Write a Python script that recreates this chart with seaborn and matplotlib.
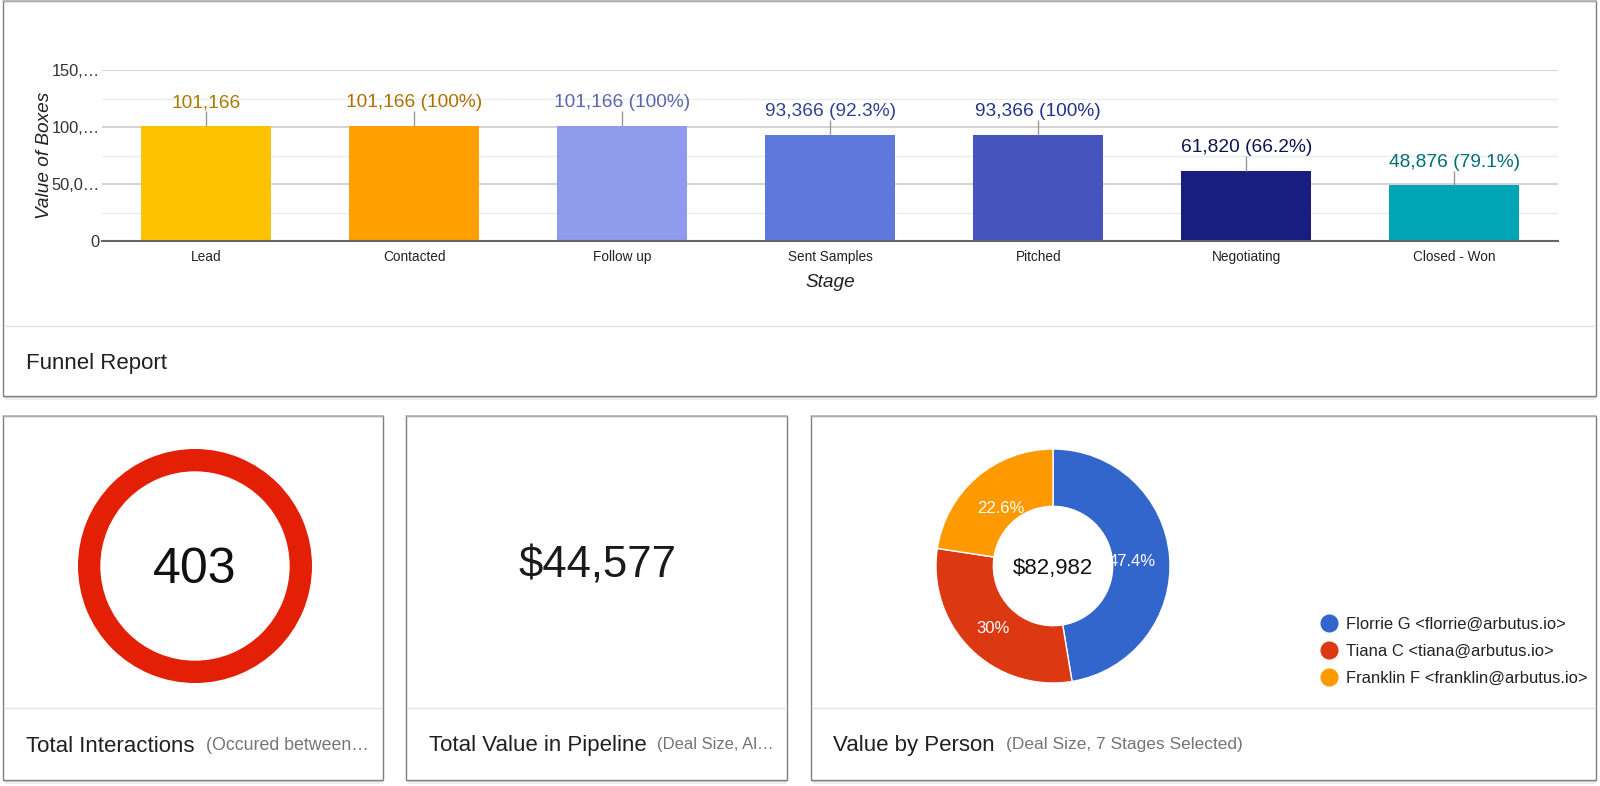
import matplotlib
matplotlib.use("Agg")
import matplotlib.pyplot as plt
from matplotlib.lines import Line2D
from matplotlib.patches import Rectangle
import pandas as pd
import seaborn as sns

stages = ["Lead", "Contacted", "Follow up", "Sent Samples", "Pitched", "Negotiating", "Closed - Won"]
boxes = [101166, 101166, 101166, 93366, 93366, 61820, 48876]
box_labels = ["101,166", "101,166 (100%)", "101,166 (100%)", "93,366 (92.3%)",
              "93,366 (100%)", "61,820 (66.2%)", "48,876 (79.1%)"]
y_ticks = [0, 50000, 100000, 150000]
y_tick_labels = ["0", "50,0…", "100,…", "150,…"]
y_minor = [25000, 75000, 125000]

total_interactions = [403]
total_pipeline = "$44,577"
people = ["Florrie G <florrie@arbutus.io>", "Tiana C <tiana@arbutus.io>", "Franklin F <franklin@arbutus.io>"]
person_share = [47.4, 30.0, 22.6]
person_total = "$82,982"

BAR_COLORS = ["#FFC200", "#FF9F00", "#8F9CEE", "#5F78DC", "#4655BE", "#181D80", "#00A5B5"]
LABEL_COLORS = ["#A87C00", "#B06F00", "#5A66AF", "#2F4292", "#25348A", "#0F1350", "#006D78"]
PIE_COLORS = ["#3366CC", "#DC3912", "#FF9900"]
W, H = 1600, 786

sns.set_theme(style="white")
plt.rcParams["font.family"] = ["Liberation Sans", "DejaVu Sans"]
plt.rcParams["text.color"] = "#202020"


def px_axes(fig, left, top, right, bottom):
    return fig.add_axes([left / W, 1 - bottom / H, (right - left) / W, (bottom - top) / H])


fig = plt.figure(figsize=(W / 100, H / 100), dpi=100, facecolor="white")

# page layer in pixel coordinates, cards and their captions
page = fig.add_axes([0, 0, 1, 1])
page.set_xlim(0, W)
page.set_ylim(H, 0)
page.axis("off")

cards = [(3, 0.5, 1596, 396, 325.5), (3, 416, 383, 779.5, 708),
         (406, 416, 787, 779.5, 708), (811, 416, 1596, 779.5, 708)]
for x0, y0, x1, y1, line_y in cards:
    # soft shadow under each card
    page.add_patch(Rectangle((x0 + 2, y1 - 2), x1 - x0 - 2, 6, fc="#eeeeee", ec="none"))
    page.add_patch(Rectangle((x0 + 1, y1 - 2), x1 - x0 - 1, 4, fc="#d4d4d4", ec="none"))
    page.add_patch(Rectangle((x0, y0), x1 - x0, y1 - y0, fc="white", ec="#7f7f7f", lw=1))
    page.plot([x0, x1], [y0, y0], color="#b4b4b4", lw=1.2)
    page.plot([x0 + 1, x1 - 1], [line_y, line_y], color="#e3e3e3", lw=1)

captions = [("Funnel Report", 26, 363, None, None, 12.5),
            ("Total Interactions", 26, 746, "(Occured between…", 205.5, 12.8),
            ("Total Value in Pipeline", 429, 746, "(Deal Size, Al…", 657, 12),
            ("Value by Person", 833, 746, "(Deal Size, 7 Stages Selected)", 1006, 12.5)]
for title, x, y, sub, sub_x, sub_size in captions:
    page.text(x, y, title, fontsize=16, va="center", color="#202020")
    if sub:
        page.text(sub_x, y - 1, sub, fontsize=sub_size, va="center", color="#757575")

page.text(597, 566, total_pipeline, fontsize=31.5, ha="center", va="center", color="#1a1a1a")

# funnel bars
ax = px_axes(fig, 102.2, 70.3, 1558.2, 241)
df = pd.DataFrame({"Stage": stages, "Boxes": boxes})
ax.patch.set_alpha(0)
sns.barplot(data=df, x="Stage", y="Boxes", hue="Stage", palette=BAR_COLORS, saturation=1,
            width=0.625, dodge=False, legend=False, ax=ax, zorder=3, edgecolor="none", linewidth=0)
ax.set_xlim(-0.5, 6.5)
ax.set_ylim(0, 150000)
ax.set_yticks(y_ticks)
ax.set_yticklabels(y_tick_labels, fontsize=11.8, color="#333333")
ax.set_yticks(y_minor, minor=True)
ax.tick_params(axis="both", which="both", length=0)
ax.tick_params(axis="y", pad=2)
ax.tick_params(axis="x", labelsize=9.8, labelcolor="#222222", pad=6.5)
ax.grid(axis="y", which="major", color="#cccccc", lw=1.2, zorder=0)
ax.grid(axis="y", which="minor", color="#ebebeb", lw=1, zorder=0)
ax.grid(axis="x", visible=False)
ax.set_axisbelow(True)
sns.despine(ax=ax, left=True)
ax.spines["bottom"].set_color("#666666")
ax.spines["bottom"].set_linewidth(1.5)
ax.spines["bottom"].set_zorder(5)
ax.set_xlabel("Stage", fontsize=13.7, style="italic", color="#202020", labelpad=7.5)
ax.set_ylabel("Value of Boxes", fontsize=13.7, style="italic", color="#202020", labelpad=-1.5)
LEADER = 13000
for i, (val, text, col) in enumerate(zip(boxes, box_labels, LABEL_COLORS)):
    ax.vlines(i, val, val + LEADER, color="#999999", lw=1, zorder=4)
    ax.annotate(text, (i, val + LEADER), xytext=(0, 0), textcoords="offset points",
                ha="center", va="bottom", fontsize=13.8, color=col, annotation_clip=False)

# gauge ring
ring = px_axes(fig, 195 - 118, 566 - 118, 195 + 118, 566 + 118)
ring.pie(total_interactions, colors=["#E32006"], radius=1, startangle=90,
         wedgeprops={"width": 22.5 / 118, "edgecolor": "none"})
ring.set_xlim(-118 / 117, 118 / 117)
ring.set_ylim(-118 / 117, 118 / 117)
ring.text(0, -0.035, str(total_interactions[0]), fontsize=36, ha="center", va="center", color="#111111")

# donut
donut = px_axes(fig, 1053 - 118, 566 - 118, 1053 + 118, 566 + 118)
wedges, _, pcts = donut.pie(person_share, colors=PIE_COLORS, startangle=90, counterclock=False,
                            autopct=lambda p: f"{p:.1f}".removesuffix(".0") + "%", pctdistance=0.68,
                            wedgeprops={"width": 0.49, "edgecolor": "white", "linewidth": 1})
donut.set_xlim(-118 / 117, 118 / 117)
donut.set_ylim(-118 / 117, 118 / 117)
for i, t in enumerate(pcts):
    t.set_color("white")
    t.set_fontsize(12)
    px, py = t.get_position()
    k = 1.07 if i == 1 else 1.0
    t.set_position((px * k, py * k - 0.02))
donut.text(0, -0.025, person_total, fontsize=16, ha="center", va="center", color="#111111")

handles = [Line2D([], [], marker="o", ls="", ms=12, color=c) for c in PIE_COLORS]
fig.legend(handles, people, loc="upper left", bbox_to_anchor=(1319 / W, 1 - 617 / H),
           frameon=False, fontsize=11.9, labelspacing=0.72, handletextpad=0.45,
           handlelength=1.2, borderpad=0, borderaxespad=0, labelcolor="#222222")

fig.savefig("out.png", dpi=100)
